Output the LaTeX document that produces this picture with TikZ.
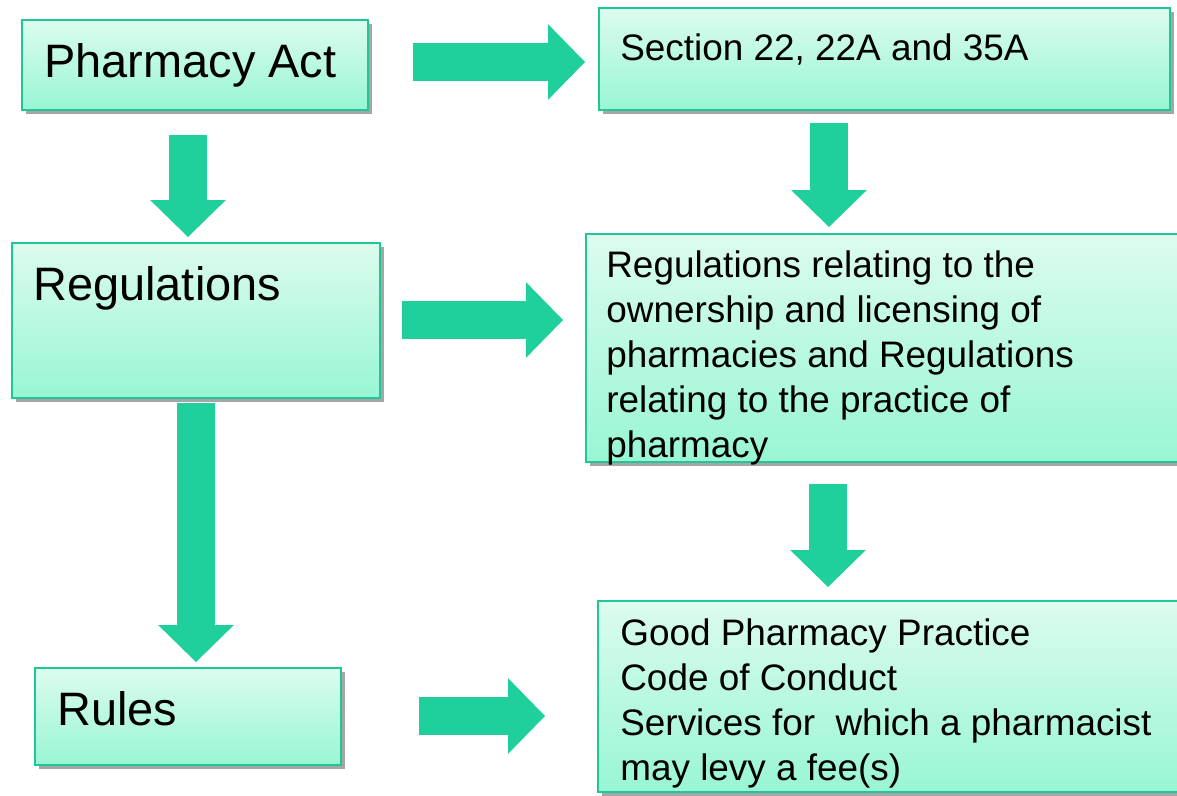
\documentclass[tikz,border=0pt]{standalone}
\usepackage{fontspec}
\setmainfont{Liberation Sans}
\usetikzlibrary{arrows.meta,shadows,fit}

\definecolor{boxtop}{HTML}{DCFCEE}
\definecolor{boxbot}{HTML}{98F6D4}
\definecolor{boxline}{HTML}{1FC796}
\definecolor{arrowgreen}{HTML}{20D09C}

\tikzset{
  lawbox/.style={draw=boxline, line width=1.2pt, top color=boxtop, bottom color=boxbot,
    inner sep=0pt, drop shadow={shadow xshift=2pt, shadow yshift=-2pt, opacity=0.35, fill=black}},
  bigtext/.style={inner sep=0pt, font=\fontsize{26.7}{32}\selectfont},
  smalltext/.style={inner sep=0pt, align=left, font=\fontsize{21}{25.6}\selectfont},
  flowarrow/.style={draw=arrowgreen, line width=22pt,
    -{Triangle[width=43pt, length=21pt, line width=0pt]}}
}

\begin{document}
\begin{tikzpicture}[x=0.02cm, y=-0.02cm]
\useasboundingbox (0,0) rectangle (1177,795);

% Boxes
\node[lawbox, fit={(22,20) (368,110)}] (act) {};
\node[lawbox, fit={(599,8) (1170,110)}] (sec) {};
\node[lawbox, fit={(12,243) (380,398)}] (reg) {};
\node[lawbox, fit={(586,234) (1182,462)}] (regs) {};
\node[lawbox, fit={(35,668) (341,765)}] (rules) {};
\node[lawbox, fit={(598,601) (1182,792)}] (good) {};

% Texts
\node[bigtext, anchor=base west] (actT) at (44,77) {Pharmacy Act};
\node[bigtext, anchor=base west] (regT) at (33,300) {Regulations};
\node[bigtext, anchor=base west] (rulesT) at (57,725) {Rules};
\node[smalltext, anchor=base west] (secT) at (620,60) {Section 22, 22A and 35A};
\node[smalltext, anchor=north west] (regsT) at (606,250)
  {Regulations relating to the\\ownership and licensing of\\pharmacies and Regulations\\relating to the practice of\\pharmacy};
\node[smalltext, anchor=north west] (goodT) at (620,618)
  {Good Pharmacy Practice\\Code of Conduct\\Services for~ which a pharmacist\\may levy a fee(s)};

% Arrow ends
\coordinate (a1s) at (413,62);  \coordinate (a1e) at (585,62);
\coordinate (a2s) at (188,135); \coordinate (a2e) at (188,237);
\coordinate (a3s) at (829,123); \coordinate (a3e) at (829,227);
\coordinate (a4s) at (402,320); \coordinate (a4e) at (563,320);
\coordinate (a5s) at (828,484); \coordinate (a5e) at (828,587);
\coordinate (a6s) at (196,403); \coordinate (a6e) at (196,662);
\coordinate (a7s) at (419,716); \coordinate (a7e) at (545,716);

% Arrows
\foreach \i in {1,...,7}
  \draw[flowarrow] (a\i s) -- (a\i e);

\end{tikzpicture}
\end{document}
